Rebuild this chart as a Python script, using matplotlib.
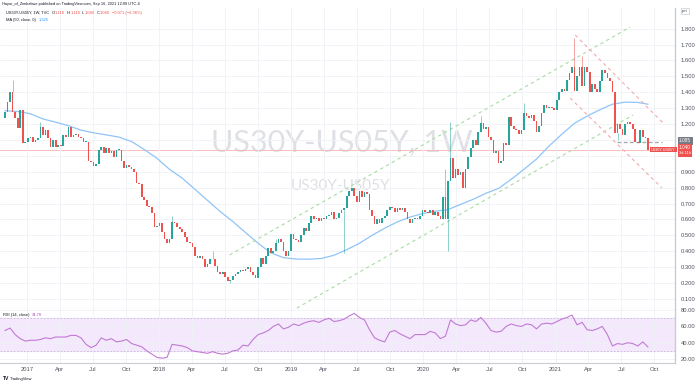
import matplotlib
matplotlib.use("Agg")
import matplotlib.pyplot as plt
import matplotlib.dates as mdates
import matplotlib.ticker as mticker
import numpy as np
import pandas as pd

# US30Y-US05Y weekly spread (pct)
first_open = 1.236
closes = [
    1.278, 1.34, 1.40, 1.278, 1.236, 1.173, 1.29, 1.08, 1.09, 1.11,
    1.12, 1.09, 1.10, 1.11, 1.184, 1.13, 1.16, 1.11, 1.055, 1.10,
    1.055, 1.07, 1.06, 1.131, 1.12, 1.184, 1.117, 1.13, 1.14, 1.12,
    1.11, 1.09, 1.09, 0.965, 0.96, 0.935, 0.95, 1.037, 1.058, 1.02,
    1.05, 1.02, 1.03, 0.995, 1.04, 1.04, 0.97, 0.925, 0.94, 0.93,
    0.92, 0.90, 0.83, 0.82, 0.743, 0.72, 0.687, 0.68, 0.64, 0.55,
    0.56, 0.58, 0.52, 0.48, 0.45, 0.48, 0.582, 0.575, 0.55, 0.54,
    0.52, 0.49, 0.46, 0.45, 0.43, 0.37, 0.36, 0.37, 0.35, 0.30,
    0.32, 0.35, 0.35, 0.31, 0.27, 0.26, 0.27, 0.24, 0.215, 0.22,
    0.245, 0.26, 0.27, 0.285, 0.275, 0.29, 0.30, 0.27, 0.25, 0.235,
    0.30, 0.36, 0.32, 0.37, 0.42, 0.39, 0.40, 0.45, 0.48, 0.46,
    0.40, 0.37, 0.40, 0.51, 0.48, 0.47, 0.46, 0.50, 0.545, 0.53,
    0.58, 0.62, 0.60, 0.61, 0.59, 0.61, 0.60, 0.62, 0.63, 0.65,
    0.60, 0.61, 0.64, 0.66, 0.67, 0.75, 0.78, 0.80, 0.75, 0.71,
    0.78, 0.74, 0.77, 0.76, 0.66, 0.62, 0.57, 0.60, 0.58, 0.61,
    0.62, 0.66, 0.68, 0.67, 0.65, 0.67, 0.66, 0.67, 0.65, 0.60,
    0.58, 0.60, 0.61, 0.60, 0.62, 0.66, 0.65, 0.64, 0.66, 0.63,
    0.65, 0.62, 0.60, 0.74, 0.60, 0.84, 0.985, 0.86, 0.92, 0.88,
    0.90, 0.80, 0.92, 0.99, 1.05, 1.10, 1.07, 1.15, 1.205, 1.17,
    1.18, 1.12, 1.10, 1.02, 1.03, 0.955, 0.97, 1.08, 1.07, 1.245,
    1.19, 1.17, 1.16, 1.14, 1.16, 1.27, 1.25, 1.24, 1.26, 1.22,
    1.15, 1.19, 1.27, 1.32, 1.30, 1.31, 1.30, 1.29, 1.35, 1.40,
    1.42, 1.41, 1.48, 1.52, 1.56, 1.41, 1.50, 1.56, 1.44, 1.56,
    1.53, 1.40, 1.45, 1.42, 1.40, 1.47, 1.54, 1.52, 1.49, 1.47,
    1.40, 1.145, 1.20, 1.17, 1.13, 1.20, 1.215, 1.20, 1.17, 1.09,
    1.08, 1.163, 1.12, 1.111, 1.040,
]
# long wicks that stick out of the bodies (week index -> value)
high_wicks = {3: 1.48, 14: 1.21, 66: 0.624, 82: 0.40, 107: 0.48, 174: 0.92,
              176: 1.21, 188: 1.25, 205: 1.33, 225: 1.74, 228: 1.63}
low_wicks = {89: 0.199, 134: 0.39, 175: 0.40, 242: 1.10}

# MA(50) read every 5th week, RSI(14) read every 2nd week
ma_step = 5
ma50 = [1.284, 1.279, 1.265, 1.232, 1.212, 1.19, 1.162, 1.145, 1.132, 1.118,
        1.09, 1.04, 0.985, 0.915, 0.86, 0.79, 0.72, 0.65, 0.587, 0.518,
        0.45, 0.39, 0.36, 0.351, 0.35, 0.355, 0.375, 0.41, 0.45, 0.50,
        0.545, 0.585, 0.615, 0.637, 0.652, 0.662, 0.695, 0.727, 0.765, 0.795,
        0.853, 0.915, 0.98, 1.063, 1.136, 1.205, 1.25, 1.29, 1.325, 1.338,
        1.336, 1.325]
rsi_step = 2
rsi14 = [55, 58, 50, 45, 42, 43, 43, 44, 46, 45,
         47, 47, 47, 49, 49, 46, 38, 34, 37, 46,
         43, 45, 41, 42, 44, 39, 37, 35, 30, 26,
         22, 21, 22, 38, 37, 36, 34, 30, 29, 28,
         27, 29, 27, 26, 27, 30, 31, 37, 36, 44,
         50, 52, 55, 60, 63, 57, 59, 63, 61, 64,
         66, 67, 65, 68, 70, 66, 67, 69, 73, 76,
         71, 68, 56, 46, 43, 41, 53, 55, 51, 48,
         45, 50, 50, 50, 54, 52, 45, 48, 68, 63,
         61, 62, 68, 66, 71, 64, 55, 53, 54, 60,
         63, 61, 60, 63, 62, 57, 63, 64, 63, 66,
         69, 71, 74, 62, 65, 56, 55, 57, 60, 50,
         36, 39, 38, 40, 39, 36, 41, 34.78]

# drawn trend lines (start, end)
chan_up_dates, chan_up_vals = ["2018-07-14", "2021-07-26"], [0.377, 1.81]
chan_lo_dates, chan_lo_vals = ["2019-01-16", "2021-08-03"], [0.043, 1.257]
down_up_dates, down_up_vals = ["2021-02-24", "2021-10-25"], [1.76, 1.207]
down_lo_dates, down_lo_vals = ["2021-02-10", "2021-10-22"], [1.364, 0.798]
level_dates, level_val = ["2021-06-20", "2021-10-22"], 1.085
last_price = 1.040

weeks = pd.date_range("2016-10-31", periods=len(closes), freq="W-MON")
x = mdates.date2num(weeks)
opens = [first_open] + closes[:-1]

GREEN, RED = "#26a69a", "#ef5350"
TXT = "#50535e"
DARK = "#131722"
plt.rcParams["font.family"] = ["Liberation Sans", "DejaVu Sans"]

W, H = 695, 384
fig = plt.figure(figsize=(W / 100, H / 100), dpi=100)
ax = fig.add_axes([0, 1 - 309 / H, 675 / W, 301 / H])
rax = fig.add_axes([0, 1 - 363 / H, 675 / W, 54 / H], sharex=ax)

# candles
for xi, o, c in zip(x, opens, closes):
    col = GREEN if c >= o else RED
    ax.bar(xi, max(abs(c - o), 0.004), bottom=min(o, c), width=4.6,
           color=col, linewidth=0, zorder=3)
for i, hv in high_wicks.items():
    col = GREEN if closes[i] >= opens[i] else RED
    ax.vlines(x[i], max(opens[i], closes[i]), hv, color=col, lw=0.6, alpha=0.6, zorder=3)
for i, lv in low_wicks.items():
    col = GREEN if closes[i] >= opens[i] else RED
    ax.vlines(x[i], lv, min(opens[i], closes[i]), color=col, lw=0.6, alpha=0.6, zorder=3)

ma_x = [x[i] for i in range(0, len(closes), ma_step)] + [x[-1]]
ax.plot(ma_x, ma50, color="#90c4f7", lw=0.9, zorder=2)

ax.axhline(last_price, color="#f7b3b3", lw=0.6, zorder=1)

dash = dict(lw=0.8, linestyle=(0, (3, 3)), zorder=2)
ax.plot(pd.to_datetime(chan_up_dates), chan_up_vals, color="#a9dba3", **dash)
ax.plot(pd.to_datetime(chan_lo_dates), chan_lo_vals, color="#a9dba3", **dash)
ax.plot(pd.to_datetime(down_up_dates), down_up_vals, color="#f4a9a9", **dash)
ax.plot(pd.to_datetime(down_lo_dates), down_lo_vals, color="#f4a9a9", **dash)
ax.plot(pd.to_datetime(level_dates), [level_val, level_val], color="#a3a6af",
        lw=0.9, linestyle=(0, (3, 2)), zorder=2)

# watermark
ax.text(0.507, 0.551, "US30Y-US05Y, 1W", transform=ax.transAxes, ha="center",
        va="center", fontsize=22, color="#dfe0e5", family="Lato", zorder=0)
ax.text(0.504, 0.409, "US30Y-US05Y", transform=ax.transAxes, ha="center",
        va="center", fontsize=11, color="#dfe0e5", family="Lato", zorder=0)

ax.set_ylim(0.037, 1.930)
ax.set_xlim(mdates.date2num(pd.Timestamp("2016-10-17")),
            mdates.date2num(pd.Timestamp("2021-11-27")))
ax.set_yticks(np.arange(0.1, 1.85, 0.1))
# the scale tags cover the 1.100 and 1.000 labels
ax.yaxis.set_major_formatter(mticker.FuncFormatter(
    lambda v, p: "" if abs(v - 1.0) < 0.01 or abs(v - 1.1) < 0.01 else "%.3f" % v))

# RSI panel
rsi_x = x[::rsi_step]
rax.axhspan(30, 70, color="#f3e8fc", zorder=0)
rax.axhline(70, color="#c8b7d6", lw=0.6, linestyle=(0, (2, 2)))
rax.axhline(30, color="#c8b7d6", lw=0.6, linestyle=(0, (2, 2)))
rax.plot(rsi_x, rsi14, color="#c27ad4", lw=0.8, zorder=3)
rax.set_ylim(15.1, 81.4)
rax.set_yticks([20, 40, 60, 80])
rax.yaxis.set_major_formatter(mticker.FormatStrFormatter("%.2f"))

months = mdates.MonthLocator(bymonth=[1, 4, 7, 10])
rax.xaxis.set_major_locator(months)
rax.xaxis.set_major_formatter(mticker.FuncFormatter(
    lambda v, p: mdates.num2date(v).strftime("%Y") if mdates.num2date(v).month == 1
    else mdates.num2date(v).strftime("%b")))

for a in (ax, rax):
    a.yaxis.tick_right()
    a.tick_params(axis="both", length=0, labelsize=4.2, labelcolor=TXT, pad=4)
    a.grid(color="#eff1f6", lw=0.6, zorder=0)
    a.set_facecolor("white")
    for s in ("top", "left"):
        a.spines[s].set_visible(False)
    a.spines["right"].set_color("#c9ccd3")
    a.spines["bottom"].set_color("#c9ccd3")
    a.spines["right"].set_linewidth(1.0)
plt.setp(ax.get_xticklabels(), visible=False)
rax.tick_params(axis="x", pad=3)

# header and legends
renderer = fig.canvas.get_renderer()


def chain(px, py, parts, size=2.9):
    # parts: (text, colour, gap after in px)
    for s, col, gap in parts:
        t = fig.text(px / W, 1 - py / H, s, fontsize=size, color=col,
                     va="center", ha="left")
        px += t.get_window_extent(renderer).width + gap


def ftxt(px, py, s, **kw):
    kw.setdefault("fontsize", 3.0)
    kw.setdefault("color", DARK)
    fig.text(px / W, 1 - py / H, s, va="center", ha="left", **kw)


ftxt(2, 3.5, "Hayur_of_Zimbabwe published on TradingView.com, Sep 16, 2021 12:09 UTC-4",
     fontsize=2.8)
chain(6, 13, [("US30Y-US05Y, 1W, TVC", DARK, 2.5),
              ("O", DARK, 0.3), ("1.118", RED, 2),
              ("H", DARK, 0.3), ("1.118", RED, 2),
              ("L", DARK, 0.3), ("1.040", RED, 2),
              ("C", DARK, 0.3), ("1.040", RED, 2),
              ("\u22120.071 (\u22126.36%)", RED, 0)])
chain(6, 20, [("MA (50, close, 0)", DARK, 2.5), ("1.325", "#2196f3", 0)])
chain(3, 315, [("RSI (14, close)", DARK, 2.5), ("34.78", "#ab47bc", 0)])
ftxt(3, 379, "TV", fontsize=3.6, weight="bold")
ftxt(10, 379, "TradingView", fontsize=3.0)
ftxt(682, 11, "pct", fontsize=3.2, color=TXT,
     bbox=dict(boxstyle="square,pad=0.25", fc="white", ec="#c9ccd3", lw=0.5))

# price tags on the scale
ftxt(651, 149.5, "US30Y-US05Y", fontsize=2.7, color="white",
     bbox=dict(boxstyle="square,pad=0.25", fc=RED, ec="none"))
ftxt(679, 141.0, "1.085", fontsize=3.4, color="white",
     bbox=dict(boxstyle="square,pad=0.3", fc="#787b86", ec="none"))
ftxt(679, 147.5, "1.040", fontsize=3.4, color="white",
     bbox=dict(boxstyle="square,pad=0.3", fc=RED, ec="none"))
ftxt(679, 153.5, "3d 11h", fontsize=2.9, color="white",
     bbox=dict(boxstyle="square,pad=0.3", fc=RED, ec="none"))

fig.savefig("out.png", dpi=100, facecolor="white")
